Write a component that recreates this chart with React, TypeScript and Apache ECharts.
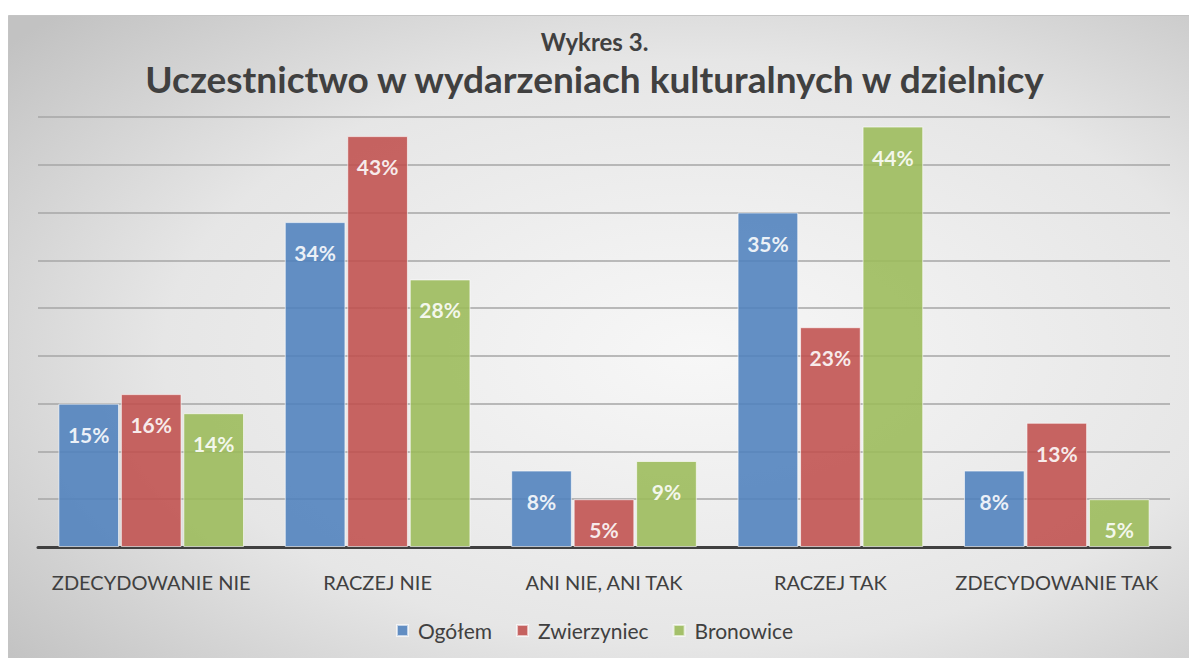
import React, { useEffect, useRef } from "react";
import * as echarts from "echarts";

const categories = ["ZDECYDOWANIE NIE", "RACZEJ NIE", "ANI NIE, ANI TAK", "RACZEJ TAK", "ZDECYDOWANIE TAK"];
const seriesNames = ["Ogółem", "Zwierzyniec", "Bronowice"];
const ogolem = [15, 34, 8, 35, 8];
const zwierzyniec = [16, 43, 5, 23, 13];
const bronowice = [14, 28, 9, 44, 5];
const colors = ["#4F81BD", "#C0504D", "#9BBB59"];

const FONT = "Lato, 'Open Sans', sans-serif";

export default function App() {
  const ref = useRef<HTMLDivElement>(null);
  useEffect(() => {
    if (!ref.current) return;
    const chart = echarts.init(ref.current, null, { renderer: "svg" });
    const data = [ogolem, zwierzyniec, bronowice];
    chart.setOption({
      animation: false,
      textStyle: { fontFamily: FONT },
      graphic: [
        {
          type: "rect",
          z: -10,
          silent: true,
          shape: { x: 8.5, y: 15.5, width: 1190, height: 650 },
          style: {
            fill: new echarts.graphic.RadialGradient(0.58, 0.52, 0.75, [
              { offset: 0, color: "#f7f7f7" },
              { offset: 0.6, color: "#e6e6e6" },
              { offset: 1, color: "#c2c2c2" },
            ]),
            stroke: "#c4c4c4",
            lineWidth: 1,
          },
        },
      ],
      title: [
        {
          text: "Wykres 3.",
          left: "center",
          top: 24,
          textStyle: { fontFamily: FONT, fontSize: 24, fontWeight: "bold", color: "#404040" },
        },
        {
          text: "Uczestnictwo w wydarzeniach kulturalnych w dzielnicy",
          left: "center",
          top: 55,
          textStyle: { fontFamily: FONT, fontSize: 37, fontWeight: "bold", color: "#404040" },
        },
      ],
      legend: {
        bottom: 12,
        left: "center",
        itemWidth: 11,
        itemHeight: 11,
        itemGap: 24,
        icon: "rect",
        textStyle: { fontFamily: FONT, fontSize: 21, color: "#404040", padding: [0, 0, 0, 5] },
        data: seriesNames,
      },
      grid: { left: 38, right: 19, top: 117, bottom: 111, containLabel: false },
      xAxis: {
        type: "category",
        data: categories,
        axisLine: { lineStyle: { color: "#404040", width: 3 } },
        axisTick: { show: false },
        axisLabel: { fontFamily: FONT, fontSize: 20, color: "#404040", margin: 25, interval: 0, hideOverlap: false },
      },
      yAxis: {
        type: "value",
        min: 0,
        max: 45,
        interval: 5,
        axisLabel: { show: false },
        axisLine: { show: false },
        axisTick: { show: false },
        splitLine: { lineStyle: { color: "#a6a6a6", width: 1.5 } },
      },
      series: data.map((d, i) => ({
        name: seriesNames[i],
        type: "bar",
        data: d,
        barGap: "3%",
        barCategoryGap: "18%",
        itemStyle: { color: colors[i], opacity: 0.88, borderColor: "rgba(255,255,255,0.7)", borderWidth: 1 },
        label: {
          show: true,
          position: "insideTop",
          distance: 20,
          formatter: "{c}%",
          color: "#ffffff",
          fontFamily: FONT,
          fontWeight: "bold",
          fontSize: 21,
        },
      })),
    });
    return () => chart.dispose();
  }, []);
  return (
    <div
      ref={ref}
      style={{ position: "fixed", left: 0, top: 0, width: 1189, height: 658, background: "#ffffff" }}
    />
  );
}
